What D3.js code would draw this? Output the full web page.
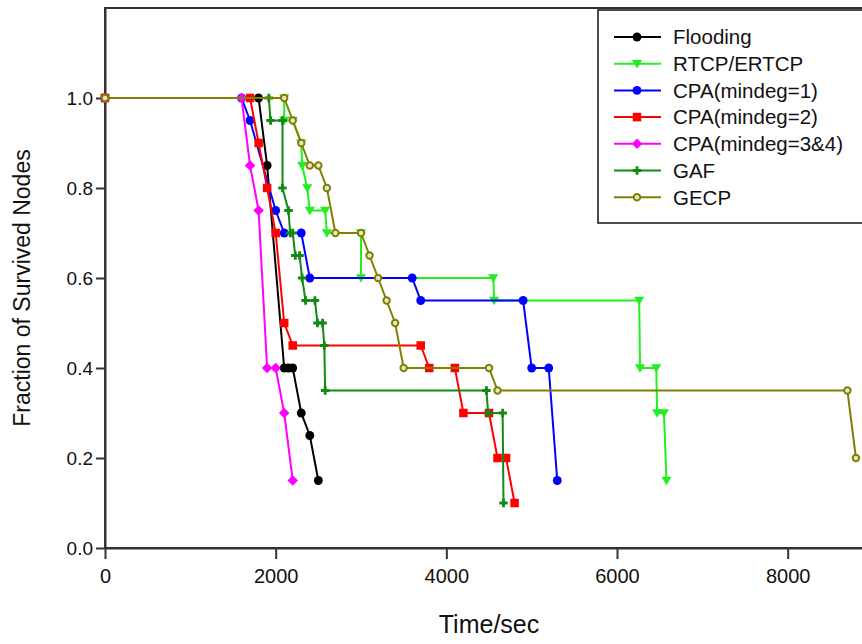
<!DOCTYPE html>
<html>
<head>
<meta charset="utf-8">
<script src="https://cdn.jsdelivr.net/npm/d3@7"></script>
<style>
  html, body { margin: 0; padding: 0; background: #fff; overflow: hidden; }
  svg { display: block; }
  text { font-family: "Liberation Sans", Arial, sans-serif; fill: #111; }
</style>
</head>
<body>
<svg id="chart" width="862" height="644"></svg>
<script>
// Survival curves: fraction of nodes still alive over time, per protocol.
const seriesNames = ["Flooding", "RTCP/ERTCP", "CPA(mindeg=1)", "CPA(mindeg=2)",
                     "CPA(mindeg=3&4)", "GAF", "GECP"];

// [time (sec), fraction of survived nodes]
const flooding = [[0,1],[1800,1],[1900,0.85],[2100,0.4],[2150,0.4],[2200,0.4],
                  [2300,0.3],[2400,0.25],[2500,0.15]];
const rtcp = [[0,1],[2100,1],[2100,0.95],[2200,0.95],[2300,0.9],[2310,0.85],[2370,0.8],
              [2400,0.75],[2580,0.75],[2600,0.7],[3000,0.7],[3000,0.6],[4550,0.6],
              [4560,0.55],[6260,0.55],[6270,0.4],[6460,0.4],[6470,0.3],[6550,0.3],[6580,0.15]];
const cpa1 = [[0,1],[1600,1],[1700,0.95],[2000,0.75],[2100,0.7],[2300,0.7],[2400,0.6],
              [3600,0.6],[3700,0.55],[4900,0.55],[5000,0.4],[5200,0.4],[5300,0.15]];
const cpa2 = [[0,1],[1700,1],[1800,0.9],[1900,0.8],[2000,0.7],[2100,0.5],[2200,0.45],
              [3700,0.45],[3800,0.4],[4100,0.4],[4200,0.3],[4500,0.3],[4600,0.2],
              [4700,0.2],[4800,0.1]];
const cpa34 = [[0,1],[1600,1],[1700,0.85],[1800,0.75],[1900,0.4],[2000,0.4],[2100,0.3],[2200,0.15]];
const gaf = [[0,1],[1920,1],[1940,0.95],[2080,0.95],[2080,0.8],[2150,0.75],[2170,0.7],
             [2200,0.7],[2230,0.65],[2280,0.65],[2310,0.6],[2350,0.55],[2460,0.55],
             [2490,0.5],[2550,0.5],[2570,0.45],[2580,0.35],[4470,0.35],[4490,0.3],
             [4660,0.3],[4670,0.1]];
const gecp = [[0,1],[2100,1],[2200,0.95],[2300,0.9],[2400,0.85],[2500,0.85],[2600,0.8],
              [2700,0.7],[3000,0.7],[3100,0.65],[3200,0.6],[3300,0.55],[3400,0.5],
              [3500,0.4],[4500,0.4],[4600,0.35],[8700,0.35],[8800,0.2]];

const xTicks = [0, 2000, 4000, 6000, 8000];
const yTicks = [0, 0.2, 0.4, 0.6, 0.8, 1.0];

const styles = [
  { color: "#000000", shape: "circle" },
  { color: "#22ee22", shape: "triangleDown" },
  { color: "#0000ff", shape: "circle" },
  { color: "#ff0000", shape: "square" },
  { color: "#ff00ff", shape: "diamond" },
  { color: "#138a13", shape: "plus" },
  { color: "#808000", shape: "ring" }
];
const allData = [flooding, rtcp, cpa1, cpa2, cpa34, gaf, gecp];

const svg = d3.select("#chart");
const plotLeft = 105, plotTop = 8, plotRight = 873, plotBottom = 548;

const x = d3.scaleLinear().domain([0, 9000]).range([plotLeft, plotRight]);
const y = d3.scaleLinear().domain([0, 1.2]).range([plotBottom, plotTop]);

// plot frame
svg.append("rect")
  .attr("x", plotLeft).attr("y", plotTop)
  .attr("width", plotRight - plotLeft).attr("height", plotBottom - plotTop)
  .attr("fill", "none").attr("stroke", "#333").attr("stroke-width", 2);

// axes
const xAxis = svg.append("g")
  .attr("transform", `translate(0,${plotBottom})`)
  .call(d3.axisBottom(x).tickValues(xTicks).tickSize(11).tickSizeOuter(0).tickPadding(10)
        .tickFormat(d3.format("d")));
xAxis.select(".domain").attr("stroke", "#333").attr("stroke-width", 2);
xAxis.selectAll(".tick line").attr("stroke", "#333").attr("stroke-width", 2);
xAxis.selectAll(".tick text").attr("font-size", 20).attr("fill", "#111");

const yAxis = svg.append("g")
  .attr("transform", `translate(${plotLeft},0)`)
  .call(d3.axisLeft(y).tickValues(yTicks).tickSize(9).tickSizeOuter(0).tickPadding(3)
        .tickFormat(d3.format(".1f")));
yAxis.select(".domain").attr("stroke", "#333").attr("stroke-width", 2);
yAxis.selectAll(".tick line").attr("stroke", "#333").attr("stroke-width", 2);
yAxis.selectAll(".tick text").attr("font-size", 19).attr("fill", "#111");

// axis titles
svg.append("text")
  .attr("x", 489).attr("y", 633)
  .attr("text-anchor", "middle").attr("font-size", 25)
  .text("Time/sec");
svg.append("text")
  .attr("transform", "translate(30,288) rotate(-90)")
  .attr("text-anchor", "middle").attr("font-size", 23)
  .text("Fraction of Survived Nodes");

// marker drawing
function drawMarker(g, shape, color, size) {
  const s = size;
  if (shape === "circle") {
    g.append("circle").attr("r", s * 0.52).attr("fill", color);
  } else if (shape === "square") {
    g.append("rect").attr("x", -s * 0.5).attr("y", -s * 0.5)
      .attr("width", s).attr("height", s).attr("fill", color);
  } else if (shape === "diamond") {
    g.append("path")
      .attr("d", `M0,${-s*0.62}L${s*0.62},0L0,${s*0.62}L${-s*0.62},0Z`)
      .attr("fill", color);
  } else if (shape === "triangleDown") {
    g.append("path")
      .attr("d", `M${-s*0.6},${-s*0.45}L${s*0.6},${-s*0.45}L0,${s*0.55}Z`)
      .attr("fill", color);
  } else if (shape === "plus") {
    g.append("path").attr("d", d3.symbol(d3.symbolCross, s * s * 0.55)()).attr("fill", color);
  } else if (shape === "ring") {
    g.append("circle").attr("r", s * 0.38).attr("fill", "#e8e6c8")
      .attr("stroke", color).attr("stroke-width", 2);
  }
}

const line = d3.line().x(d => x(d[0])).y(d => y(d[1]));

allData.forEach((data, i) => {
  const st = styles[i];
  const g = svg.append("g").attr("class", "series");
  g.append("path").datum(data)
    .attr("d", line).attr("fill", "none")
    .attr("stroke", st.color).attr("stroke-width", 2);
  g.selectAll("g.pt").data(data).enter().append("g")
    .attr("class", "pt")
    .attr("transform", d => `translate(${x(d[0])},${y(d[1])})`)
    .each(function() { drawMarker(d3.select(this), st.shape, st.color, 8.5); });
});

// legend
const legend = svg.append("g");
legend.append("rect")
  .attr("x", 598).attr("y", 10).attr("width", 280).attr("height", 213)
  .attr("fill", "#fff").attr("stroke", "#111").attr("stroke-width", 1.5);
seriesNames.forEach((name, i) => {
  const st = styles[i];
  const ly = 37 + i * 26.7;
  const row = legend.append("g").attr("transform", `translate(0,${ly})`);
  row.append("line").attr("x1", 614).attr("x2", 661).attr("y1", 0).attr("y2", 0)
    .attr("stroke", st.color).attr("stroke-width", 2);
  const m = row.append("g").attr("transform", "translate(637,0)");
  drawMarker(m, st.shape, st.color, 8.5);
  row.append("text").attr("x", 673).attr("y", 0).attr("dy", "0.36em")
    .attr("font-size", 20.5).text(name);
});
</script>
</body>
</html>
